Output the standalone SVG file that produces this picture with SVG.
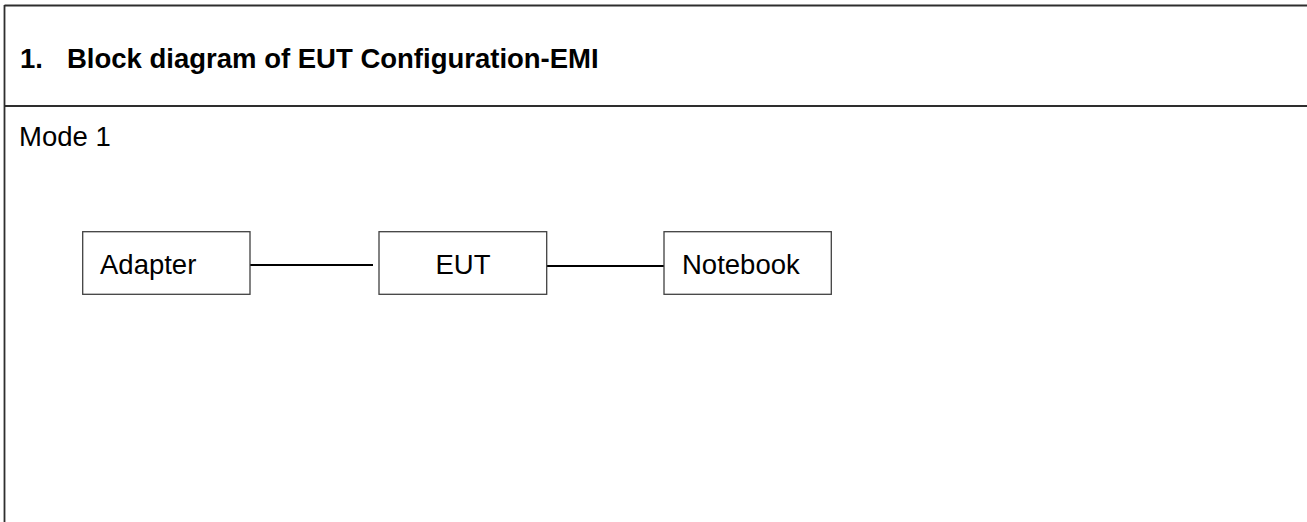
<svg xmlns="http://www.w3.org/2000/svg" width="1307" height="522" viewBox="0 0 1307 522">
<style>
.frame{stroke:#2e2e2e;stroke-width:1.8;fill:none}
.box{fill:#ffffff;stroke:#404040;stroke-width:1.3}
.wire{stroke:#000000;stroke-width:1.8;fill:none}
.lbl{font-family:"Liberation Sans",Arial,sans-serif;font-size:27.5px;fill:#000000}
.ctr{text-anchor:middle}
.ttl{font-family:"Liberation Sans",Arial,sans-serif;font-size:27.5px;font-weight:bold;fill:#000000}
</style>
<rect x="0" y="0" width="1307" height="522" fill="#ffffff"/>
<g id="frame">
<line class="frame" x1="4.5" y1="5.5" x2="1307" y2="5.5"/>
<line class="frame" x1="4.5" y1="106" x2="1307" y2="106"/>
<line class="frame" x1="4.5" y1="5" x2="4.5" y2="522"/>
</g>
<g id="title">
<text class="ttl" x="20" y="68">1.</text>
<text class="ttl" x="67" y="68">Block diagram of EUT Configuration-EMI</text>
</g>
<g id="mode">
<text class="lbl" x="19" y="146">Mode 1</text>
</g>
<g id="connectors">
<line class="wire" x1="250" y1="265" x2="373" y2="265"/>
<line class="wire" x1="542" y1="266" x2="664" y2="266"/>
</g>
<g id="adapter">
<rect class="box" x="82.7" y="231.7" width="167.3" height="62.6"/>
<text class="lbl" x="100" y="274">Adapter</text>
</g>
<g id="eut">
<rect class="box" x="379" y="231.7" width="167.7" height="62.6"/>
<text class="lbl ctr" x="463" y="274">EUT</text>
</g>
<g id="notebook">
<rect class="box" x="664" y="231.7" width="167.3" height="62.6"/>
<text class="lbl" x="682" y="274">Notebook</text>
</g>
</svg>
